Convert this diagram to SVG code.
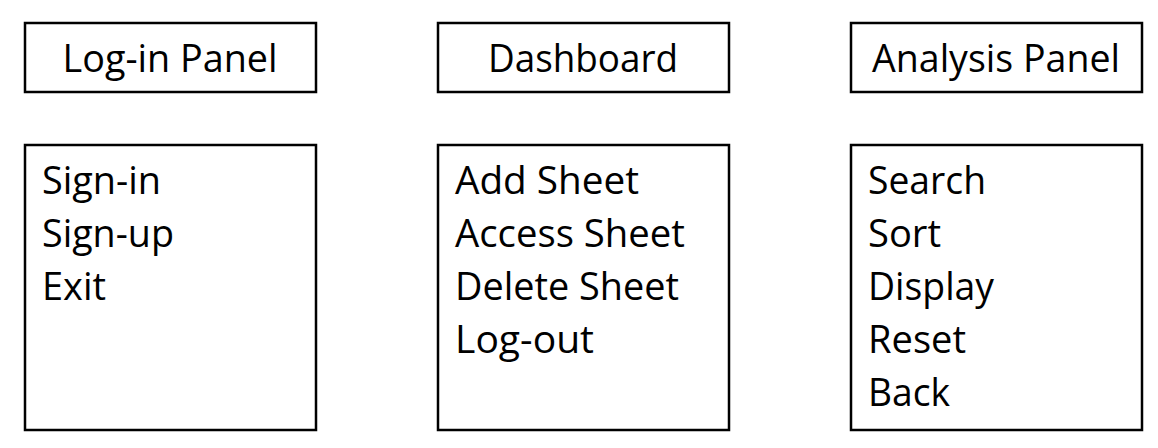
<svg xmlns="http://www.w3.org/2000/svg" width="1158" height="448" viewBox="0 0 1158 448">
<style>
rect{fill:#fff;stroke:#000;stroke-width:2.5}
text{font-family:"Open Sans","Noto Sans","Liberation Sans",sans-serif;font-size:39px;fill:#000}
.t{text-anchor:middle}
</style>
<rect x="0" y="0" width="1158" height="448" style="stroke:none"/>
<g id="login-title"><rect x="25" y="23" width="291" height="69"/><text class="t" x="170" y="72" textLength="215" lengthAdjust="spacingAndGlyphs">Log-in Panel</text></g>
<g id="dashboard-title"><rect x="438" y="23" width="291" height="69"/><text class="t" x="583" y="72" textLength="190" lengthAdjust="spacingAndGlyphs">Dashboard</text></g>
<g id="analysis-title"><rect x="851" y="23" width="291" height="69"/><text class="t" x="996" y="72" textLength="248" lengthAdjust="spacingAndGlyphs">Analysis Panel</text></g>
<g id="login-menu"><rect x="25" y="145" width="291" height="285"/>
<text x="42" y="194" textLength="119" lengthAdjust="spacingAndGlyphs">Sign-in</text>
<text x="42" y="247" textLength="132" lengthAdjust="spacingAndGlyphs">Sign-up</text>
<text x="42" y="300" textLength="64" lengthAdjust="spacingAndGlyphs">Exit</text></g>
<g id="dashboard-menu"><rect x="438" y="145" width="291" height="285"/>
<text x="455" y="194" textLength="184" lengthAdjust="spacingAndGlyphs">Add Sheet</text>
<text x="455" y="247" textLength="230" lengthAdjust="spacingAndGlyphs">Access Sheet</text>
<text x="455" y="300" textLength="224" lengthAdjust="spacingAndGlyphs">Delete Sheet</text>
<text x="455" y="353" textLength="139" lengthAdjust="spacingAndGlyphs">Log-out</text></g>
<g id="analysis-menu"><rect x="851" y="145" width="291" height="285"/>
<text x="868" y="194" textLength="118" lengthAdjust="spacingAndGlyphs">Search</text>
<text x="868" y="247" textLength="73" lengthAdjust="spacingAndGlyphs">Sort</text>
<text x="868" y="300" textLength="126" lengthAdjust="spacingAndGlyphs">Display</text>
<text x="868" y="353" textLength="98" lengthAdjust="spacingAndGlyphs">Reset</text>
<text x="868" y="406" textLength="82" lengthAdjust="spacingAndGlyphs">Back</text></g>
<g id="connectors"></g>
</svg>
